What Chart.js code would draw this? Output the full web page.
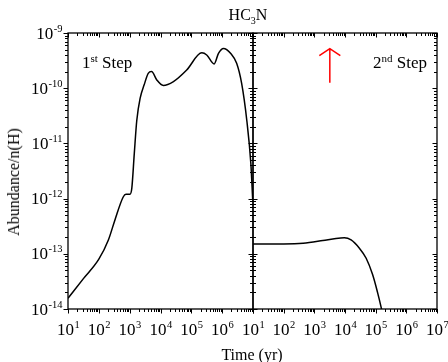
<!DOCTYPE html>
<html>
<head>
<meta charset="utf-8">
<title>HC3N</title>
<script src="https://cdn.jsdelivr.net/npm/chart.js@4.4.1/dist/chart.umd.min.js"></script>
<style>
  html, body { margin: 0; padding: 0; background: #fff; }
  #wrap { position: relative; width: 448px; height: 362px; overflow: hidden;
          font-family: "Liberation Serif", "Times New Roman", serif; color: #000; }
  #wrap canvas { position: absolute; top: 0; }
  #leftChart { left: 0; }
  #rightChart { left: 236px; }
  .txt { position: absolute; white-space: nowrap; line-height: 1; }
  .txt sup { font-size: 11px; vertical-align: 6px; }
  .txt sub { font-size: 10px; vertical-align: -4px; }
</style>
</head>
<body>
<div id="wrap">
  <canvas id="leftChart" width="256" height="362"></canvas>
  <canvas id="rightChart" width="212" height="362"></canvas>

  <div class="txt" style="left:148px; top:7px; width:200px; text-align:center; font-size:16px;">HC<sub>3</sub>N</div>
  <div class="txt" style="left:13.5px; top:182px; font-size:16px; transform:translate(-50%,-50%) rotate(-90deg);">Abundance/n(H)</div>
  <div class="txt" style="left:152px; top:347px; width:200px; text-align:center; font-size:16px;">Time (yr)</div>
  <div class="txt" style="left:82px; top:53px; font-size:17px;">1<sup>st</sup> Step</div>
  <div class="txt" style="left:373px; top:53px; font-size:17px;">2<sup>nd</sup> Step</div>
</div>

<script>
// 1st step (left panel)
const leftTime  = [10, 31.6, 100, 204, 331, 617, 759, 1020, 1175, 1413, 1700, 2190, 2950, 4000, 5130, 7590, 12300, 26300, 70800, 218800, 316000, 550000, 759000, 1100000, 1900000, 2950000, 4270000, 6300000, 8500000, 9800000];
const leftAbund = [1.56e-14, 3.55e-14, 8.0e-14, 1.78e-13, 4.07e-13, 1.07e-12, 1.2e-12, 1.2e-12, 1.55e-12, 6.6e-12, 2.6e-11, 6.6e-11, 1.15e-10, 1.86e-10, 2.0e-10, 1.41e-10, 1.12e-10, 1.32e-10, 2.14e-10, 4.37e-10, 4.0e-10, 2.75e-10, 4.27e-10, 5.25e-10, 4.27e-10, 2.82e-10, 1.23e-10, 2.6e-11, 4.4e-12, 9.3e-13];

// 2nd step (right panel)
const rightTime  = [10, 100, 430, 1900, 5100, 9500, 15800, 29500, 49000, 79400, 115000, 151000, 178000];
const rightAbund = [1.51e-13, 1.51e-13, 1.55e-13, 1.74e-13, 1.9e-13, 1.95e-13, 1.78e-13, 1.26e-13, 8.3e-14, 4.2e-14, 2.0e-14, 1.07e-14, 7e-15];

// axis ranges and tick labels (exponents)
const xMin = 1e1, xMax = 1e7;
const yMin = 1e-14, yMax = 1e-9;
const leftXLabels  = ['1', '2', '3', '4', '5', '6'];
const rightXLabels = ['1', '2', '3', '4', '5', '6', '7'];
const yLabels = ['-9', '-10', '-11', '-12', '-13', '-14'];

// red arrow in the 2nd step panel (data coords)
const arrowX = 3200, arrowTop = 5.2e-10, arrowBottom = 1.26e-10;

const FONT = '"Liberation Serif", "Times New Roman", serif';

function logValues(min, max) {
    var out = [];
    for (var e = Math.round(Math.log10(min)); e < Math.round(Math.log10(max)); e++) {
        for (var m = 1; m <= 9; m++) out.push({ v: m * Math.pow(10, e), major: m === 1 });
    }
    out.push({ v: max, major: true });
    return out;
}

function powerLabel(ctx, exp, x, baseY, align) {
    ctx.font = '17px ' + FONT;
    var w1 = ctx.measureText('10').width;
    ctx.font = '10.5px ' + FONT;
    var w2 = ctx.measureText(exp).width;
    var start = align === 'center' ? x - (w1 + w2) / 2 : x - (w1 + w2);
    ctx.textAlign = 'left';
    ctx.textBaseline = 'alphabetic';
    ctx.font = '17px ' + FONT;
    ctx.fillText('10', start, baseY);
    ctx.font = '10.5px ' + FONT;
    ctx.fillText(exp, start + w1 + 0.5, baseY - 7);
}

// frame, inward/outward ticks and tick labels
const framePlugin = {
    id: 'frame',
    afterDatasetsDraw(chart, args, opts) {
        const ctx = chart.ctx, a = chart.chartArea;
        const xs = chart.scales.x, ys = chart.scales.y;
        ctx.save();
        ctx.strokeStyle = '#000';
        ctx.fillStyle = '#000';
        ctx.lineWidth = 1.3;
        ctx.strokeRect(a.left, a.top, a.right - a.left, a.bottom - a.top);
        ctx.lineWidth = 1;
        ctx.beginPath();
        logValues(xMin, xMax).forEach(function (t) {
            var px = Math.round(xs.getPixelForValue(t.v)) + 0.5;
            var len = t.major ? 4.5 : 3;
            ctx.moveTo(px, a.bottom); ctx.lineTo(px, a.bottom + len);   // bottom: out
            ctx.moveTo(px, a.top); ctx.lineTo(px, a.top + len);         // top: in
        });
        logValues(yMin, yMax).forEach(function (t) {
            var py = Math.round(ys.getPixelForValue(t.v)) + 0.5;
            var len = t.major ? 4.5 : 3;
            ctx.moveTo(a.left, py); ctx.lineTo(a.left + opts.leftDir * len, py);
            ctx.moveTo(a.right, py); ctx.lineTo(a.right - len, py);     // right: in
        });
        ctx.stroke();

        opts.xLabels.forEach(function (exp) {
            var px = xs.getPixelForValue(Math.pow(10, +exp));
            powerLabel(ctx, exp, px, a.bottom + 25.5, 'center');
        });
        opts.yLabels.forEach(function (exp) {
            var py = ys.getPixelForValue(Math.pow(10, +exp));
            powerLabel(ctx, exp, a.left - 6, py + 5.5, 'right');
        });
        ctx.restore();
    }
};

const arrowPlugin = {
    id: 'arrow',
    afterDatasetsDraw(chart, args, opts) {
        if (!opts.show) return;
        const ctx = chart.ctx;
        var x = chart.scales.x.getPixelForValue(arrowX);
        var y1 = chart.scales.y.getPixelForValue(arrowTop);
        var y2 = chart.scales.y.getPixelForValue(arrowBottom);
        ctx.save();
        ctx.strokeStyle = '#ff0000';
        ctx.lineWidth = 1.5;
        ctx.beginPath();
        ctx.moveTo(x, y2); ctx.lineTo(x, y1);
        ctx.moveTo(x - 10.5, y1 + 7); ctx.lineTo(x, y1); ctx.lineTo(x + 10.5, y1 + 7);
        ctx.stroke();
        ctx.restore();
    }
};

function makePanel(id, times, values, pad, frameOpts, showArrow) {
    var ctx = document.getElementById(id).getContext('2d');
    return new Chart(ctx, {
        type: 'line',
        data: {
            datasets: [{
                data: times.map(function (t, i) { return { x: t, y: values[i] }; }),
                borderColor: '#000',
                borderWidth: 1.5,
                pointRadius: 0,
                cubicInterpolationMode: 'monotone',
                fill: false
            }]
        },
        options: {
            responsive: false,
            animation: false,
            layout: { padding: pad },
            plugins: {
                legend: { display: false },
                tooltip: { enabled: false },
                frame: frameOpts,
                arrow: { show: showArrow }
            },
            scales: {
                x: { type: 'logarithmic', min: xMin, max: xMax, display: false },
                y: { type: 'logarithmic', min: yMin, max: yMax, display: false }
            }
        },
        plugins: [framePlugin, arrowPlugin]
    });
}

makePanel('leftChart', leftTime, leftAbund,
    { left: 68, right: 3, top: 33, bottom: 53 },
    { leftDir: -1, xLabels: leftXLabels, yLabels: yLabels }, false);

makePanel('rightChart', rightTime, rightAbund,
    { left: 17, right: 11, top: 33, bottom: 53 },
    { leftDir: 1, xLabels: rightXLabels, yLabels: [] }, true);
</script>
</body>
</html>
